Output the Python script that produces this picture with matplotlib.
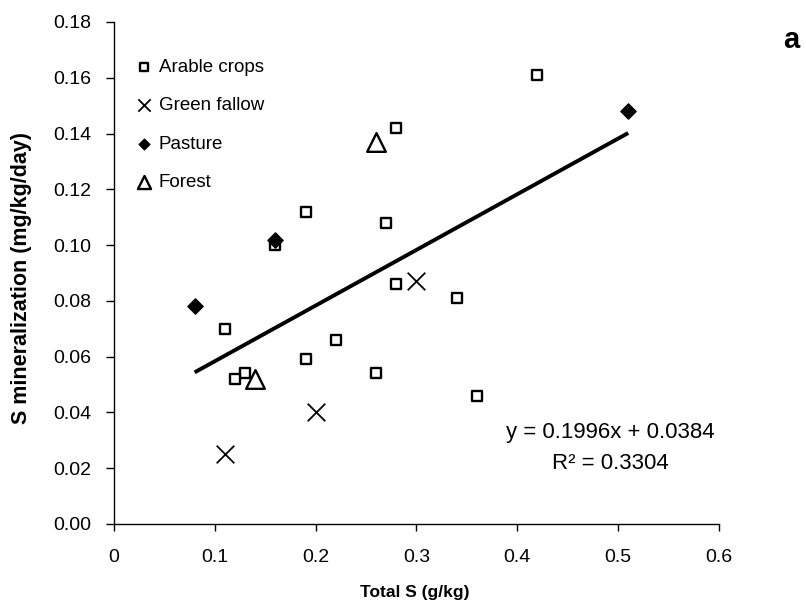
import matplotlib
matplotlib.use("Agg")
import matplotlib.pyplot as plt
import numpy as np

plt.rcParams['font.family'] = ['Liberation Sans', 'DejaVu Sans']

arable_x = [0.42, 0.28, 0.19, 0.27, 0.16, 0.28, 0.34, 0.11, 0.22, 0.19, 0.13, 0.12, 0.26, 0.36]
arable_y = [0.161, 0.142, 0.112, 0.108, 0.100, 0.086, 0.081, 0.070, 0.066, 0.059, 0.054, 0.052, 0.054, 0.046]
fallow_x = [0.11, 0.20, 0.30]
fallow_y = [0.025, 0.040, 0.087]
pasture_x = [0.08, 0.16, 0.51]
pasture_y = [0.078, 0.102, 0.148]
forest_x = [0.26, 0.14]
forest_y = [0.137, 0.052]
slope, intercept = 0.1996, 0.0384
r2 = 0.3304
trend_range = [0.08, 0.51]
xticks = [0, 0.1, 0.2, 0.3, 0.4, 0.5, 0.6]
xtick_labels = ['0', '0.1', '0.2', '0.3', '0.4', '0.5', '0.6']
yticks = [0.00, 0.02, 0.04, 0.06, 0.08, 0.10, 0.12, 0.14, 0.16, 0.18]

fig = plt.figure(figsize=(8.06, 6.11), dpi=100)
ax = fig.add_axes([0.1414, 0.1424, 0.892 - 0.1414, 0.964 - 0.1424])

tx = np.array(trend_range)
ax.plot(tx, slope * tx + intercept, color='black', lw=2.8, solid_capstyle='butt', zorder=2)

ax.scatter(arable_x, arable_y, marker='s', s=62, facecolors='white', edgecolors='black', linewidths=1.7, label='Arable crops', zorder=3)
ax.scatter(fallow_x, fallow_y, marker='x', s=160, color='black', linewidths=1.3, label='Green fallow', zorder=3)
ax.scatter(pasture_x, pasture_y, marker='D', s=60, color='black', label='Pasture', zorder=3)
ax.scatter(forest_x, forest_y, marker='^', s=180, facecolors='white', edgecolors='black', linewidths=1.7, label='Forest', zorder=3)

ax.set_xlim(0, 0.6)
ax.set_ylim(0, 0.18)
ax.set_xticks(xticks)
ax.set_xticklabels(xtick_labels)
ax.set_yticks(yticks)
ax.set_yticklabels([f'{v:.2f}' for v in yticks])
ax.tick_params(axis='y', direction='out', length=6, width=1, labelsize=14, colors='black', pad=10)
ax.tick_params(axis='x', direction='out', length=5, width=1, labelsize=14, colors='black', pad=13)
ax.spines['top'].set_visible(False)
ax.spines['right'].set_visible(False)
ax.spines['left'].set_linewidth(1)
ax.spines['bottom'].set_linewidth(1)

fig.text(0.515, 0.031, 'Total S (g/kg)', fontsize=12.5, fontweight='bold', ha='center', va='center')
fig.text(0.027, 0.545, 'S mineralization (mg/kg/day)', fontsize=15.5, fontweight='bold',
         ha='center', va='center', rotation=90)

leg = ax.legend(loc='upper left', bbox_to_anchor=(0.0, 0.96), frameon=False, fontsize=13.5,
                handletextpad=0.1, labelspacing=1.13, handlelength=1.4, markerscale=0.7)

ax.text(0.82, 0.183, f'y = {slope}x + {intercept}', transform=ax.transAxes, ha='center', va='center', fontsize=16)
ax.text(0.82, 0.12, f'R² = {r2}', transform=ax.transAxes, ha='center', va='center', fontsize=16)

fig.text(0.982, 0.935, 'a', fontsize=21, fontweight='bold', ha='center', va='center')

fig.savefig('out.png', dpi=100)
